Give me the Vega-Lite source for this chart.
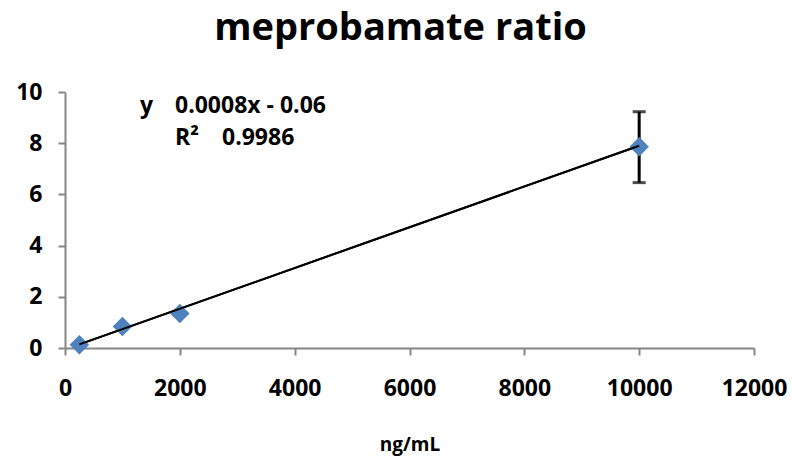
{
  "$schema": "https://vega.github.io/schema/vega-lite/v6.json",
  "width": 689,
  "height": 256,
  "autosize": {"type": "none"},
  "padding": {"left": 65, "top": 92, "right": 38, "bottom": 109},
  "background": "white",
  "config": {
    "view": {"stroke": null},
    "font": "Open Sans",
    "axis": {
      "grid": false,
      "domainColor": "#868686",
      "tickColor": "#868686",
      "domainWidth": 2,
      "tickWidth": 2,
      "tickSize": 7,
      "labelFlush": false,
      "labelOverlap": false,
      "labelFont": "Open Sans",
      "labelFontWeight": "bold",
      "labelFontSize": 23,
      "labelColor": "black",
      "titleFont": "Open Sans",
      "titleFontWeight": "bold",
      "titleFontSize": 19,
      "titleColor": "black"
    }
  },
  "title": {
    "text": "meprobamate ratio",
    "font": "Open Sans",
    "fontSize": 38,
    "fontWeight": "bold",
    "color": "black",
    "anchor": "middle",
    "offset": 33,
    "dx": -9
  },
  "datasets": {
    "points": [
      {"conc": 250, "ratio": 0.13},
      {"conc": 1000, "ratio": 0.84},
      {"conc": 2000, "ratio": 1.35},
      {"conc": 10000, "ratio": 7.86}
    ],
    "err": [
      {"conc": 10000, "low": 6.46, "high": 9.23}
    ],
    "trend": [
      {"conc": 250, "ratio": 0.14},
      {"conc": 10000, "ratio": 7.9}
    ],
    "labels": [
      {"conc": 1306, "ratio": 9.47, "label": "y"},
      {"conc": 1916, "ratio": 9.47, "label": "0.0008x - 0.06"},
      {"conc": 1916, "ratio": 8.22, "label": "R²"},
      {"conc": 2734, "ratio": 8.22, "label": "0.9986"}
    ]
  },
  "layer": [
    {
      "data": {"name": "trend"},
      "mark": {"type": "line", "color": "black", "strokeWidth": 2},
      "encoding": {
        "x": {
          "field": "conc", "type": "quantitative",
          "scale": {"domain": [0, 12000], "nice": false},
          "axis": {"values": [0, 2000, 4000, 6000, 8000, 10000, 12000], "title": "ng/mL", "labelPadding": 22, "titlePadding": 35, "format": "d"}
        },
        "y": {
          "field": "ratio", "type": "quantitative",
          "scale": {"domain": [0, 10], "nice": false},
          "axis": {"values": [0, 2, 4, 6, 8, 10], "title": null, "labelPadding": 16}
        }
      }
    },
    {
      "data": {"name": "err"},
      "mark": {"type": "rule", "color": "black", "strokeWidth": 3},
      "encoding": {
        "x": {"field": "conc", "type": "quantitative"},
        "y": {"field": "low", "type": "quantitative"},
        "y2": {"field": "high"}
      }
    },
    {
      "data": {"name": "err"},
      "mark": {"type": "tick", "color": "black", "thickness": 3, "size": 13, "orient": "horizontal"},
      "encoding": {
        "x": {"field": "conc", "type": "quantitative"},
        "y": {"field": "low", "type": "quantitative"}
      }
    },
    {
      "data": {"name": "err"},
      "mark": {"type": "tick", "color": "black", "thickness": 3, "size": 13, "orient": "horizontal"},
      "encoding": {
        "x": {"field": "conc", "type": "quantitative"},
        "y": {"field": "high", "type": "quantitative"}
      }
    },
    {
      "data": {"name": "points"},
      "mark": {"type": "point", "shape": "diamond", "filled": true, "color": "#4F81BD", "opacity": 1, "size": 380},
      "encoding": {
        "x": {"field": "conc", "type": "quantitative"},
        "y": {"field": "ratio", "type": "quantitative"}
      }
    },
    {
      "data": {"name": "trend"},
      "mark": {"type": "line", "color": "black", "strokeWidth": 2},
      "encoding": {
        "x": {"field": "conc", "type": "quantitative"},
        "y": {"field": "ratio", "type": "quantitative"}
      }
    },
    {
      "data": {"name": "labels"},
      "mark": {"type": "text", "align": "left", "baseline": "middle", "font": "Open Sans", "fontWeight": "bold", "fontSize": 23, "color": "black"},
      "encoding": {
        "x": {"field": "conc", "type": "quantitative"},
        "y": {"field": "ratio", "type": "quantitative"},
        "text": {"field": "label"}
      }
    }
  ]
}
